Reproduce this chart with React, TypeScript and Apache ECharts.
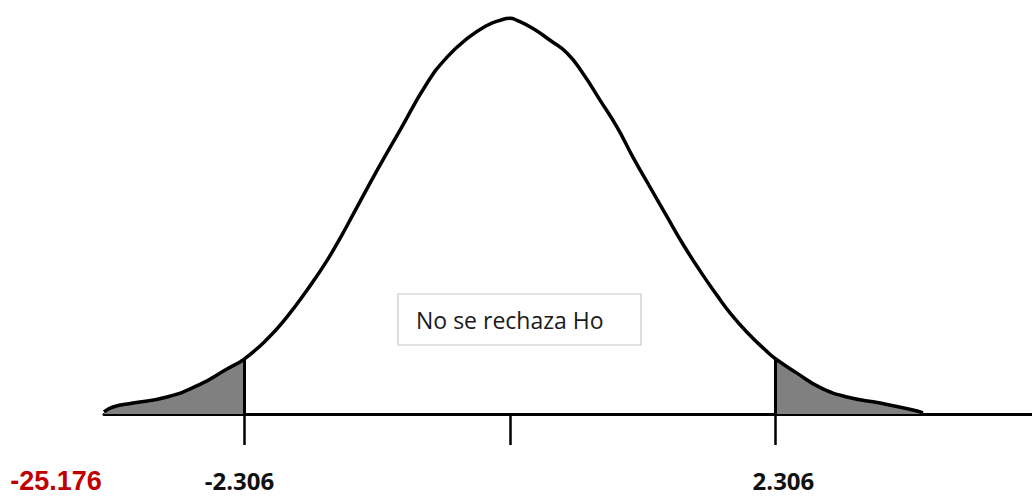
import React, { useEffect, useRef } from "react";
import * as echarts from "echarts";

// t values (x) and density heights (y)
const curveT = [
  -3.527, -3.449, -3.275, -2.98, -2.693, -2.459, -2.306, -2.111, -1.937, -1.764,
  -1.59, -1.451, -1.364, -1.156, -0.956, -0.721, -0.547, -0.374, -0.2, -0.087,
  0, 0.061, 0.2, 0.348, 0.495, 0.634, 0.782, 0.93, 1.069, 1.216,
  1.364, 1.503, 1.651, 1.799, 1.911, 2.059, 2.233, 2.306, 2.493, 2.693,
  2.928, 3.215, 3.501, 3.588,
];
const curveY = [
  0.002, 0.0068, 0.0107, 0.0166, 0.029, 0.044, 0.054, 0.073, 0.095, 0.121,
  0.15, 0.177, 0.195, 0.238, 0.2775, 0.3235, 0.349, 0.367, 0.38, 0.385,
  0.387, 0.385, 0.377, 0.3655, 0.353, 0.333, 0.307, 0.2805, 0.251, 0.222,
  0.193, 0.166, 0.14, 0.116, 0.099, 0.08, 0.061, 0.054, 0.04, 0.026,
  0.0166, 0.0107, 0.0039, 0.001,
];
const criticalValues = [-2.306, 2.306];
const tickValues = [-2.306, 0, 2.306];
const tickLabels = ["-2.306", "2.306"];
const statisticLabel = "-25.176";
const boxText = "No se rechaza Ho";

export default function App() {
  const ref = useRef<HTMLDivElement>(null);

  useEffect(() => {
    document.body.style.margin = "0";
    if (!ref.current) return;
    const chart = echarts.init(ref.current, null, { renderer: "svg" });

    const points = curveT.map((t, i) => [t, curveY[i]]);
    const leftTail = points.filter((p) => p[0] <= criticalValues[0]);
    const rightTail = points.filter((p) => p[0] >= criticalValues[1]);
    const critY = (c: number) => curveY[curveT.indexOf(c)];

    const tailSeries = (data: number[][], c: number) => ({
      type: "line",
      data,
      smooth: 0.5,
      symbol: "none",
      lineStyle: { width: 0, opacity: 0 },
      areaStyle: { color: "#808080", opacity: 1 },
      z: 1,
      silent: true,
      markLine: {
        silent: true,
        symbol: "none",
        label: { show: false },
        lineStyle: { color: "#000", width: 3, type: "solid" },
        data: [[{ coord: [c, 0] }, { coord: [c, critY(c)] }]],
      },
    });

    const labelStyle = {
      fontFamily: "Open Sans",
      fontWeight: "bold",
      fontSize: 24,
      lineHeight: 20,
      color: "#111",
    };

    chart.setOption({
      animation: false,
      grid: { left: 104, right: 0, top: 5, bottom: 82 },
      xAxis: {
        type: "value",
        min: -3.527,
        max: 4.535,
        splitLine: { show: false },
        axisLine: { show: true, onZero: false, lineStyle: { color: "#000", width: 3 } },
        axisTick: {
          show: true,
          customValues: tickValues,
          length: 31,
          lineStyle: { color: "#000", width: 2.5 },
        },
        axisLabel: {
          show: true,
          customValues: criticalValues,
          margin: 57,
          formatter: (v: number) =>
            v < 0 ? "{l|" + tickLabels[0] + "}" : "{r|" + tickLabels[1] + "}",
          rich: {
            l: { ...labelStyle, padding: [0, 10, 2, 0] },
            r: { ...labelStyle, padding: [0, 0, 2, 16] },
          },
        },
      },
      yAxis: { type: "value", min: 0, max: 0.4, show: false },
      series: [
        tailSeries(leftTail, criticalValues[0]),
        tailSeries(rightTail, criticalValues[1]),
        {
          type: "line",
          data: points,
          smooth: 0.5,
          symbol: "none",
          lineStyle: { color: "#000", width: 3.5 },
          z: 3,
        },
      ],
      graphic: [
        {
          type: "rect",
          shape: { x: 398, y: 294, width: 243, height: 51 },
          style: { fill: "#fff", stroke: "#c8c8c8", lineWidth: 1.2 },
          z: 10,
        },
        {
          type: "text",
          x: 416,
          y: 320,
          style: {
            text: boxText,
            fontFamily: "Open Sans",
            fontSize: 23,
            fill: "#1a1a1a",
            verticalAlign: "middle",
            align: "left",
          },
          z: 11,
        },
        {
          type: "text",
          x: 56,
          y: 481,
          style: {
            text: statisticLabel,
            fontFamily: "Liberation Sans",
            fontWeight: "bold",
            fontSize: 27,
            lineHeight: 22,
            fill: "#c00000",
            verticalAlign: "middle",
            align: "center",
          },
          z: 11,
        },
      ],
    });

    return () => chart.dispose();
  }, []);

  return <div ref={ref} style={{ width: 1032, height: 496 }} />;
}
